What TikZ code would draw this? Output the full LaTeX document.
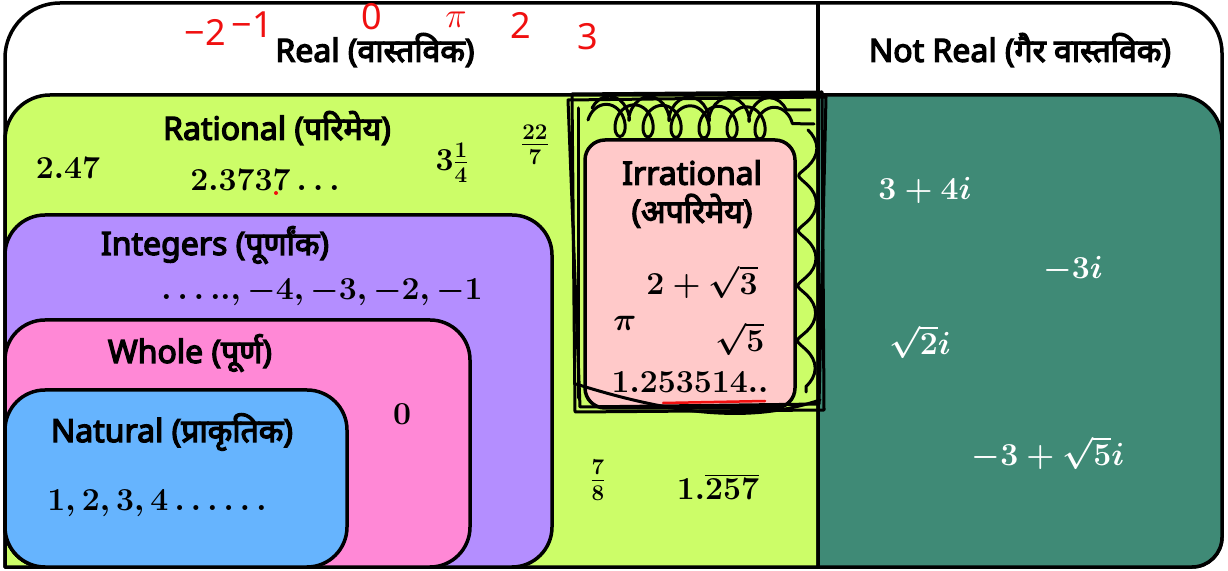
\documentclass[tikz,border=0pt]{standalone}
\usepackage{fix-cm}
\usepackage{amsmath}
\usepackage{fontspec}
\setmainfont{Noto Sans}[AutoFakeBold=4]
\newfontfamily\devfont[Script=Devanagari,AutoFakeBold=4]{Noto Sans}
\usetikzlibrary{decorations.pathmorphing}
\definecolor{ratgreen}{HTML}{CCFD68}
\definecolor{intpurple}{HTML}{B48EFF}
\definecolor{wholepink}{HTML}{FF88D6}
\definecolor{natblue}{HTML}{66B4FE}
\definecolor{irrpink}{HTML}{FFC9C9}
\definecolor{cplxteal}{HTML}{3F8A76}
\definecolor{penred}{HTML}{F01010}

\begin{document}
\begin{tikzpicture}[x=1pt,y=1pt,
  region/.style={draw=black,line width=3.5pt,line join=round},
  setlabel/.style={font=\fontsize{32}{38}\selectfont\bfseries,inner sep=0pt,align=center},
  num/.style={font=\fontsize{32}{34}\selectfont\boldmath,inner sep=0pt},
  wnum/.style={num,text=white,font=\fontsize{32}{34}\selectfont\boldmath},
  hand/.style={text=penred,font=\fontsize{36}{36}\selectfont,inner sep=0pt},
  scribble/.style={draw=black,line width=3pt,line cap=round,line join=round}]
\useasboundingbox (0,0) rectangle (1228,570);
\fill[white] (0,0) rectangle (1228,570);
\draw[region,fill=white] (5,3) -- (5,512) arc[start angle=180,end angle=90,radius=55]
  -- (1172,567) arc[start angle=90,end angle=0,radius=50]
  -- (1222,33) arc[start angle=0,end angle=-90,radius=30] -- cycle;
\draw[region,fill=ratgreen] (5,3) -- (5,430) arc[start angle=180,end angle=90,radius=45]
  -- (818,475) -- (818,3) -- cycle;
\draw[region,fill=cplxteal] (818,3) -- (818,475) -- (1177,475)
  arc[start angle=90,end angle=0,radius=45] -- (1222,33)
  arc[start angle=0,end angle=-90,radius=30] -- cycle;
\draw[region] (818,475) -- (818,567);
\draw[region,fill=intpurple,rounded corners=40pt] (5,3) rectangle (552,355);
\draw[region,fill=wholepink,rounded corners=40pt] (5,3) rectangle (470,250);
\draw[region,fill=natblue,rounded corners=40pt] (5,3) rectangle (347,180);
\draw[region,fill=irrpink,rounded corners=20pt] (585,162) rectangle (795,430);
\draw[scribble] (572,476) -- (822,478) -- (824,160) -- (575,158) -- cycle;
\draw[scribble] (568,470) -- (826,473) -- (819,166) -- (580,163) -- cycle;
\draw[scribble] (578,462) -- (578,172);
\draw[scribble,decorate,decoration={coil,amplitude=16pt,segment length=28pt,aspect=0.7}] (588,450) -- (814,446);
\draw[scribble,decorate,decoration={coil,amplitude=12pt,segment length=40pt,aspect=0.6}] (592,462) -- (810,460);
\draw[scribble,decorate,decoration={coil,amplitude=9pt,segment length=55pt}] (808,440) -- (806,178);
\draw[scribble] (576,186) .. controls (690,150) and (760,150) .. (820,170);

\node[setlabel] (real) at (375,520) {Real ({\devfont वास्तविक})};
\node[setlabel] (notreal) at (1020,520) {Not Real ({\devfont गैर वास्तविक})};
\node[setlabel] (rational) at (277,442) {Rational ({\devfont परिमेय})};
\node[setlabel] (integers) at (215,325) {Integers ({\devfont पूर्णांक})};
\node[setlabel] (whole) at (190,217) {Whole ({\devfont पूर्ण})};
\node[setlabel] (natural) at (172,138) {Natural ({\devfont प्राकृतिक})};
\node[setlabel] (irrational) at (692,376) {Irrational\\({\devfont अपरिमेय})};

\node[num] (ra) at (68,402) {$2.47$};
\node[num] (rb) at (265,390) {$2.3737\ldots$};
\node[num] (rc) at (452,407) {$3\frac{1}{4}$};
\node[num] (rd) at (535,425) {$\frac{22}{7}$};
\node[num] (re) at (598,90) {$\frac{7}{8}$};
\node[num] (rf) at (718,83) {$1.\overline{257}$};
\node[num] (ia) at (322,278) {$\ldots..,-4,-3,-2,-1$};
\node[num] (wa) at (402,156) {$0$};
\node[num] (na) at (157,67) {$1,2,3,4\ldots\ldots$};
\node[num] (qa) at (702,288) {$2+\sqrt{3}$};
\node[num] (qb) at (625,247) {$\pi$};
\node[num] (qc) at (740,231) {$\sqrt{5}$};
\node[num] (qd) at (690,188) {$1.253514..$};
\node[wnum] (ca) at (925,380) {$3+4i$};
\node[wnum] (cb) at (1073,300) {$-3i$};
\node[wnum] (cc) at (920,228) {$\sqrt{2}i$};
\node[wnum] (cd) at (1048,117) {$-3+\sqrt{5}i$};

\node[hand] (hm2) at (205,538) {−2};
\node[hand] (hm1) at (252,545) {−1};
\node[hand] (h0) at (372,553) {0};
\node[hand] (hpi) at (456,550) {$\pi$};
\node[hand] (h2) at (521,545) {2};
\node[hand] (h3) at (588,533) {3};
\fill[penred] (276,377) circle (2pt);
\draw[penred,line width=2.5pt,line cap=round] (663,167) -- (765,169);
\end{tikzpicture}
\end{document}
